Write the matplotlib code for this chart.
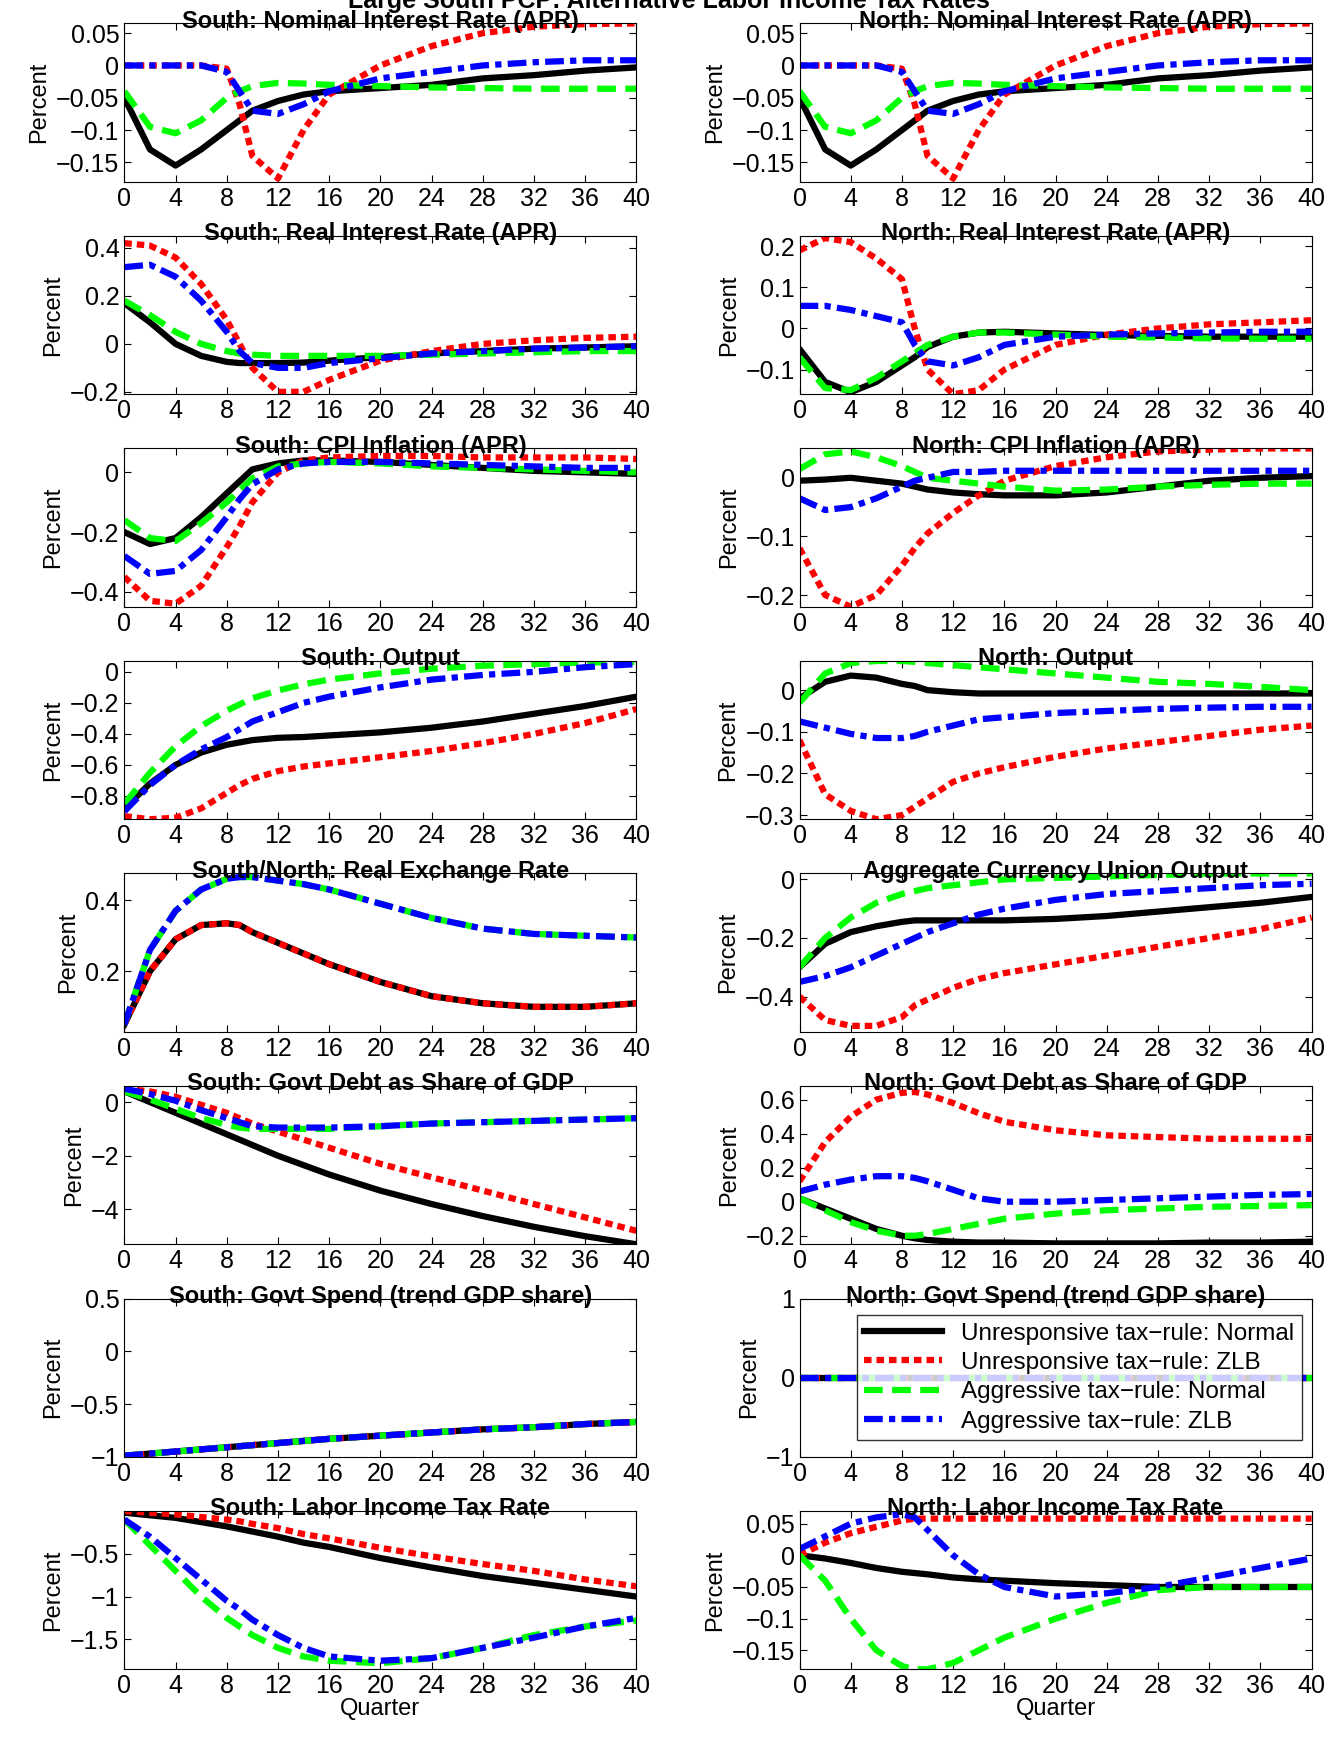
import numpy as np
import matplotlib
matplotlib.use("Agg")
import matplotlib.pyplot as plt

plt.rcParams.update({"font.family": ["Liberation Sans", "DejaVu Sans"], "font.size": 17})

q = [0, 2, 4, 6, 8, 9, 10, 12, 14, 16, 20, 24, 28, 32, 36, 40]

names = ["Unresponsive tax\u2212rule: Normal", "Unresponsive tax\u2212rule: ZLB",
         "Aggressive tax\u2212rule: Normal", "Aggressive tax\u2212rule: ZLB"]

nom_blk = [-0.05, -0.13, -0.155, -0.13, -0.1, -0.085, -0.07, -0.055, -0.045, -0.04, -0.035, -0.03, -0.02, -0.015, -0.008, -0.003]
nom_red = [0, 0, 0, 0, -0.005, -0.06, -0.14, -0.175, -0.1, -0.045, 0.0, 0.03, 0.05, 0.06, 0.064, 0.065]
nom_grn = [-0.04, -0.095, -0.105, -0.085, -0.05, -0.04, -0.032, -0.027, -0.028, -0.03, -0.032, -0.034, -0.035, -0.036, -0.036, -0.036]
nom_blu = [0, 0, 0, 0, -0.01, -0.04, -0.07, -0.075, -0.06, -0.04, -0.02, -0.01, 0, 0.005, 0.008, 0.008]

sreal_blk = [0.17, 0.09, 0.0, -0.05, -0.075, -0.08, -0.08, -0.08, -0.078, -0.07, -0.055, -0.04, -0.03, -0.02, -0.015, -0.01]
sreal_red = [0.42, 0.41, 0.36, 0.25, 0.1, 0.0, -0.1, -0.2, -0.2, -0.15, -0.07, -0.03, 0.0, 0.015, 0.025, 0.03]
sreal_grn = [0.18, 0.12, 0.05, 0.0, -0.03, -0.04, -0.045, -0.05, -0.05, -0.05, -0.05, -0.045, -0.04, -0.035, -0.03, -0.03]
sreal_blu = [0.32, 0.33, 0.28, 0.18, 0.05, -0.03, -0.08, -0.1, -0.1, -0.08, -0.06, -0.04, -0.03, -0.02, -0.015, -0.01]

nreal_blk = [-0.05, -0.13, -0.155, -0.13, -0.09, -0.07, -0.045, -0.02, -0.01, -0.008, -0.012, -0.016, -0.018, -0.02, -0.02, -0.02]
nreal_red = [0.19, 0.22, 0.21, 0.17, 0.12, 0.0, -0.1, -0.16, -0.15, -0.1, -0.04, -0.015, 0.0, 0.01, 0.015, 0.02]
nreal_grn = [-0.07, -0.145, -0.15, -0.12, -0.08, -0.06, -0.04, -0.02, -0.01, -0.01, -0.015, -0.02, -0.022, -0.024, -0.025, -0.025]
nreal_blu = [0.055, 0.055, 0.045, 0.03, 0.015, -0.04, -0.08, -0.09, -0.07, -0.04, -0.02, -0.015, -0.012, -0.01, -0.008, -0.008]

scpi_blk = [-0.2, -0.24, -0.22, -0.15, -0.07, -0.03, 0.01, 0.03, 0.04, 0.04, 0.035, 0.025, 0.015, 0.005, 0, -0.005]
scpi_red = [-0.35, -0.43, -0.44, -0.38, -0.25, -0.18, -0.1, 0.0, 0.04, 0.05, 0.055, 0.055, 0.05, 0.05, 0.05, 0.045]
scpi_grn = [-0.16, -0.22, -0.23, -0.17, -0.1, -0.06, -0.02, 0.02, 0.03, 0.035, 0.03, 0.02, 0.015, 0.01, 0.005, 0.0]
scpi_blu = [-0.28, -0.34, -0.33, -0.26, -0.15, -0.09, -0.04, 0.01, 0.03, 0.035, 0.035, 0.03, 0.025, 0.02, 0.015, 0.015]

ncpi_blk = [-0.005, -0.003, 0.0, -0.005, -0.01, -0.015, -0.02, -0.025, -0.028, -0.03, -0.03, -0.025, -0.015, -0.005, 0.0, 0.003]
ncpi_red = [-0.12, -0.2, -0.22, -0.2, -0.15, -0.12, -0.095, -0.06, -0.03, -0.005, 0.02, 0.035, 0.045, 0.048, 0.05, 0.05]
ncpi_grn = [0.015, 0.04, 0.045, 0.035, 0.02, 0.01, 0.0, -0.005, -0.01, -0.015, -0.022, -0.02, -0.015, -0.012, -0.01, -0.01]
ncpi_blu = [-0.035, -0.055, -0.05, -0.035, -0.015, -0.005, 0.0, 0.01, 0.01, 0.012, 0.012, 0.012, 0.012, 0.012, 0.012, 0.012]

sout_blk = [-0.88, -0.72, -0.6, -0.52, -0.47, -0.455, -0.44, -0.425, -0.42, -0.41, -0.39, -0.36, -0.32, -0.27, -0.22, -0.16]
sout_red = [-0.93, -0.95, -0.94, -0.88, -0.78, -0.73, -0.69, -0.64, -0.61, -0.59, -0.55, -0.51, -0.46, -0.4, -0.33, -0.24]
sout_grn = [-0.85, -0.65, -0.48, -0.35, -0.25, -0.21, -0.17, -0.12, -0.08, -0.05, -0.01, 0.02, 0.04, 0.05, 0.06, 0.065]
sout_blu = [-0.9, -0.73, -0.6, -0.5, -0.42, -0.37, -0.32, -0.26, -0.2, -0.16, -0.1, -0.05, -0.02, 0.0, 0.03, 0.05]

nout_blk = [-0.02, 0.02, 0.035, 0.03, 0.015, 0.01, 0.0, -0.005, -0.008, -0.008, -0.008, -0.008, -0.008, -0.008, -0.008, -0.008]
nout_red = [-0.12, -0.25, -0.29, -0.31, -0.3, -0.28, -0.26, -0.22, -0.2, -0.185, -0.16, -0.14, -0.125, -0.11, -0.095, -0.085]
nout_grn = [-0.03, 0.04, 0.065, 0.07, 0.07, 0.068, 0.065, 0.06, 0.055, 0.05, 0.04, 0.03, 0.02, 0.015, 0.008, 0.0]
nout_blu = [-0.075, -0.09, -0.105, -0.115, -0.115, -0.11, -0.1, -0.085, -0.07, -0.065, -0.055, -0.05, -0.045, -0.042, -0.04, -0.04]

rer_blk = [0.05, 0.2, 0.29, 0.33, 0.335, 0.33, 0.31, 0.28, 0.25, 0.22, 0.17, 0.13, 0.11, 0.1, 0.1, 0.11]
rer_grn = [0.05, 0.26, 0.37, 0.43, 0.46, 0.465, 0.465, 0.455, 0.445, 0.43, 0.39, 0.35, 0.32, 0.305, 0.3, 0.295]

agg_blk = [-0.3, -0.22, -0.18, -0.16, -0.145, -0.14, -0.14, -0.14, -0.14, -0.14, -0.135, -0.125, -0.11, -0.095, -0.08, -0.06]
agg_red = [-0.4, -0.48, -0.5, -0.5, -0.47, -0.43, -0.41, -0.37, -0.34, -0.32, -0.29, -0.26, -0.23, -0.2, -0.17, -0.13]
agg_grn = [-0.3, -0.2, -0.13, -0.08, -0.05, -0.04, -0.03, -0.02, -0.01, 0.0, 0.005, 0.01, 0.015, 0.02, 0.02, 0.02]
agg_blu = [-0.35, -0.33, -0.3, -0.26, -0.22, -0.2, -0.18, -0.15, -0.12, -0.1, -0.07, -0.05, -0.04, -0.03, -0.02, -0.015]

sdebt_blk = [0.4, 0.0, -0.4, -0.8, -1.2, -1.4, -1.6, -2.0, -2.35, -2.7, -3.3, -3.8, -4.25, -4.65, -5.0, -5.3]
sdebt_red = [0.5, 0.4, 0.2, -0.1, -0.4, -0.6, -0.8, -1.1, -1.4, -1.7, -2.3, -2.8, -3.3, -3.8, -4.3, -4.8]
sdebt_grn = [0.4, 0.1, -0.25, -0.6, -0.85, -0.95, -1.0, -1.0, -1.0, -1.0, -0.9, -0.8, -0.75, -0.7, -0.65, -0.6]
sdebt_blu = [0.5, 0.3, 0.05, -0.3, -0.6, -0.75, -0.9, -0.95, -0.95, -0.95, -0.9, -0.8, -0.75, -0.7, -0.65, -0.6]

ndebt_blk = [0.02, -0.04, -0.1, -0.16, -0.2, -0.215, -0.225, -0.235, -0.24, -0.24, -0.245, -0.245, -0.245, -0.24, -0.24, -0.235]
ndebt_red = [0.12, 0.35, 0.5, 0.6, 0.64, 0.645, 0.63, 0.58, 0.52, 0.47, 0.42, 0.39, 0.38, 0.37, 0.37, 0.37]
ndebt_grn = [0.02, -0.05, -0.12, -0.17, -0.2, -0.2, -0.19, -0.16, -0.13, -0.1, -0.07, -0.05, -0.04, -0.03, -0.025, -0.02]
ndebt_blu = [0.06, 0.1, 0.13, 0.15, 0.15, 0.14, 0.12, 0.07, 0.02, 0.0, 0.0, 0.01, 0.02, 0.03, 0.04, 0.045]

sspend = [-0.99, -0.97, -0.95, -0.93, -0.91, -0.9, -0.89, -0.87, -0.85, -0.83, -0.8, -0.77, -0.74, -0.72, -0.69, -0.67]
nspend = [0.0] * 16

stax_blk = [-0.02, -0.05, -0.08, -0.13, -0.18, -0.21, -0.24, -0.3, -0.37, -0.42, -0.55, -0.66, -0.76, -0.84, -0.92, -1.0]
stax_red = [0.0, -0.02, -0.04, -0.07, -0.1, -0.12, -0.15, -0.2, -0.27, -0.32, -0.43, -0.53, -0.62, -0.7, -0.8, -0.88]
stax_grn = [-0.1, -0.4, -0.7, -1.0, -1.25, -1.35, -1.45, -1.6, -1.7, -1.75, -1.78, -1.72, -1.6, -1.45, -1.35, -1.28]
stax_blu = [-0.1, -0.3, -0.55, -0.8, -1.05, -1.15, -1.27, -1.45, -1.6, -1.7, -1.75, -1.72, -1.6, -1.48, -1.35, -1.25]

ntax_blk = [0.0, -0.005, -0.012, -0.02, -0.026, -0.028, -0.03, -0.035, -0.038, -0.04, -0.044, -0.047, -0.05, -0.05, -0.05, -0.05]
ntax_red = [0.0, 0.02, 0.035, 0.045, 0.055, 0.058, 0.058, 0.058, 0.058, 0.058, 0.058, 0.058, 0.058, 0.058, 0.058, 0.058]
ntax_grn = [0.0, -0.04, -0.1, -0.15, -0.175, -0.18, -0.18, -0.17, -0.15, -0.13, -0.1, -0.075, -0.055, -0.05, -0.05, -0.05]
ntax_blu = [0.01, 0.03, 0.05, 0.06, 0.065, 0.06, 0.04, 0.0, -0.03, -0.05, -0.065, -0.06, -0.05, -0.035, -0.02, -0.005]

panels = [
    ("South: Nominal Interest Rate (APR)", [nom_blk, nom_red, nom_grn, nom_blu], (-0.18, 0.065), [-0.15, -0.1, -0.05, 0, 0.05]),
    ("North: Nominal Interest Rate (APR)", [nom_blk, nom_red, nom_grn, nom_blu], (-0.18, 0.065), [-0.15, -0.1, -0.05, 0, 0.05]),
    ("South: Real Interest Rate (APR)", [sreal_blk, sreal_red, sreal_grn, sreal_blu], (-0.21, 0.45), [-0.2, 0, 0.2, 0.4]),
    ("North: Real Interest Rate (APR)", [nreal_blk, nreal_red, nreal_grn, nreal_blu], (-0.16, 0.225), [-0.1, 0, 0.1, 0.2]),
    ("South: CPI Inflation (APR)", [scpi_blk, scpi_red, scpi_grn, scpi_blu], (-0.45, 0.08), [-0.4, -0.2, 0]),
    ("North: CPI Inflation (APR)", [ncpi_blk, ncpi_red, ncpi_grn, ncpi_blu], (-0.22, 0.05), [-0.2, -0.1, 0]),
    ("South: Output", [sout_blk, sout_red, sout_grn, sout_blu], (-0.95, 0.07), [-0.8, -0.6, -0.4, -0.2, 0]),
    ("North: Output", [nout_blk, nout_red, nout_grn, nout_blu], (-0.31, 0.07), [-0.3, -0.2, -0.1, 0]),
    ("South/North: Real Exchange Rate", [rer_blk, rer_blk, rer_grn, rer_grn], (0.03, 0.475), [0.2, 0.4]),
    ("Aggregate Currency Union Output", [agg_blk, agg_red, agg_grn, agg_blu], (-0.52, 0.02), [-0.4, -0.2, 0]),
    ("South: Govt Debt as Share of GDP", [sdebt_blk, sdebt_red, sdebt_grn, sdebt_blu], (-5.3, 0.6), [-4, -2, 0]),
    ("North: Govt Debt as Share of GDP", [ndebt_blk, ndebt_red, ndebt_grn, ndebt_blu], (-0.25, 0.68), [-0.2, 0, 0.2, 0.4, 0.6]),
    ("South: Govt Spend (trend GDP share)", [sspend] * 4, (-1, 0.5), [-1, -0.5, 0, 0.5]),
    ("North: Govt Spend (trend GDP share)", [nspend] * 4, (-1, 1), [-1, 0, 1]),
    ("South: Labor Income Tax Rate", [stax_blk, stax_red, stax_grn, stax_blu], (-1.85, 0.0), [-1.5, -1, -0.5]),
    ("North: Labor Income Tax Rate", [ntax_blk, ntax_red, ntax_grn, ntax_blu], (-0.18, 0.07), [-0.15, -0.1, -0.05, 0, 0.05]),
]

styles = [dict(color="black", ls="-"), dict(color="#ff0000", ls=(0, (1.2, 0.8))),
          dict(color="#00ff00", ls=(0, (3, 1.5))), dict(color="#0000ff", ls=(0, (3, 1, 1, 1)))]

fig = plt.figure(figsize=(13.37, 17.39), dpi=100)
fig.text(0.5, 0.9995, "Large South PCP: Alternative Labor Income Tax Rates",
         ha="center", va="center", fontsize=18, fontweight="bold")

for k, (title, series, ylim, yticks) in enumerate(panels):
    row, col = divmod(k, 2)
    left = 0.093 if col == 0 else 0.598
    top = 1 - 0.0135 - row * 0.1222
    ax = fig.add_axes([left, top - 0.091, 0.383, 0.091])
    for s, st, lab in zip(series, styles, names):
        ax.plot(q, s, lw=4.5, label=lab, **st)
    ax.set_xlim(0, 40)
    ax.set_ylim(*ylim)
    ax.set_xticks(range(0, 41, 4))
    ax.set_yticks(yticks)
    ax.set_yticklabels([f"{t:g}".replace("-", "\u2212") for t in yticks])
    ax.tick_params(labelsize=18, direction="in", length=5, top=True, right=True)
    ax.set_title(title, fontsize=17, fontweight="bold", pad=-3)
    ax.set_ylabel("Percent", fontsize=17)
    if row == 7:
        ax.set_xlabel("Quarter", fontsize=17, labelpad=0)
    if k == 13:
        ax.legend(loc="center right", fontsize=17.5, frameon=True, fancybox=False,
                  edgecolor="black", handlelength=3.2, borderaxespad=0.2,
                  labelspacing=0.3, borderpad=0.3, bbox_to_anchor=(0.99, 0.5))

fig.savefig("out.png", dpi=100)
